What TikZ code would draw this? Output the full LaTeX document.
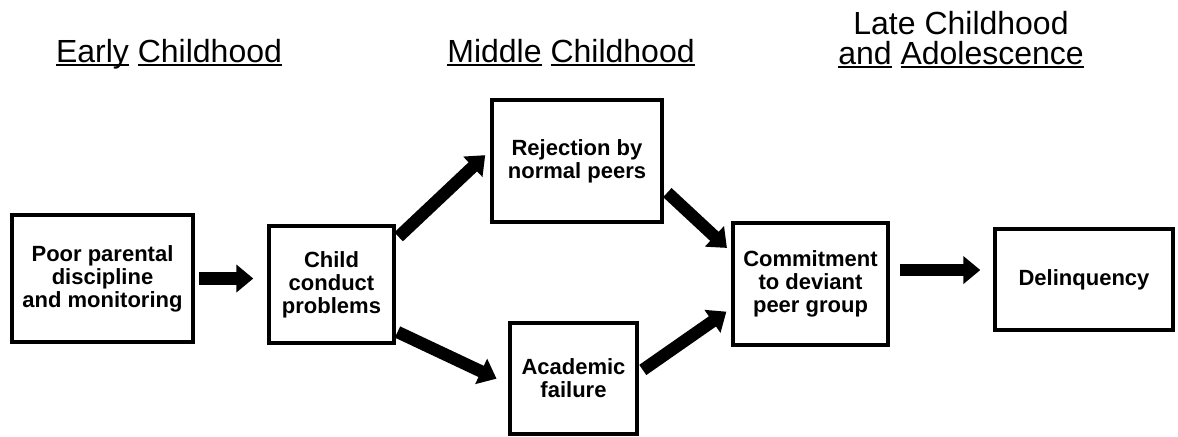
\documentclass[tikz,border=0pt]{standalone}
\usepackage{fontspec}
\setmainfont{Liberation Sans}
\usepackage{tikz}
\usetikzlibrary{arrows.meta}

\begin{document}
\begin{tikzpicture}[x=0.5pt, y=-0.5pt, font=\fontsize{11}{11.5}\selectfont\bfseries]

    % --- 1. RAHMEN UND STILE ---
    \useasboundingbox (0,0) rectangle (1178,436);
    \tikzset{
        kasten/.style={draw, line width=1.7pt, align=center, inner sep=2pt},
        pfeil/.style={line width=6.2pt, -{Triangle[length=8.5pt, width=13.5pt]}},
        phase/.style={font=\fontsize{16}{15}\selectfont, align=center, anchor=base}
    }
    % Wort einzeln unterstrichen (Strich geht durch die Unterlaengen)
    \newcommand{\ulword}[1]{\setbox0\hbox{#1}\rlap{\rule[-2pt]{\wd0}{1pt}}\box0\relax}

    % --- 2. PHASEN (UEBERSCHRIFTEN) ---
    \node[phase] (frueh) at (169,62) {\ulword{Early} \ulword{Childhood}};
    \node[phase] (mitte) at (571,62) {\ulword{Middle} \ulword{Childhood}};
    \node[phase] (spaet) at (961,64) {Late Childhood\\\ulword{and} \ulword{Adolescence}};

    % --- 3. KAESTEN ---
    \node[kasten, minimum width=90.5pt, minimum height=63.5pt] (eltern) at (102.5,278.5)
        {Poor parental\\discipline\\and monitoring};
    \node[kasten, minimum width=62.5pt, minimum height=58.5pt] (verhalten) at (331.5,284.5)
        {Child\\conduct\\problems};
    \node[kasten, minimum width=85pt, minimum height=61pt] (ablehnung) at (577,161)
        {Rejection by\\normal peers};
    \node[kasten, minimum width=63.5pt, minimum height=55.5pt] (schule) at (573.5,378.5)
        {Academic\\failure};
    \node[kasten, minimum width=77.5pt, minimum height=61pt] (bindung) at (810.5,284)
        {Commitment\\to deviant\\peer group};
    \node[kasten, minimum width=89pt, minimum height=50.5pt] (delinquenz) at (1084,279.5)
        {Delinquency};

    % --- 4. PFEILE ---
    \draw[pfeil, shorten <=2pt, shorten >=7pt] (eltern.east) -- (eltern.east -| verhalten.west);
    \draw[pfeil, shorten <=2pt, shorten >=3.5pt] (verhalten.35) -- (ablehnung.173);
    \draw[pfeil, shorten <=1pt, shorten >=6.5pt] (verhalten.-36) -- (schule.185);
    \draw[pfeil, shorten <=2.5pt, shorten >=3pt] (ablehnung.-18) -- (bindung.158);
    \draw[pfeil, shorten <=2.5pt, shorten >=3pt] (schule.5) -- (bindung.197);
    \draw[pfeil, shorten <=5pt, shorten >=6.5pt] (bindung.10) -- (bindung.10 -| delinquenz.west);

\end{tikzpicture}
\end{document}
